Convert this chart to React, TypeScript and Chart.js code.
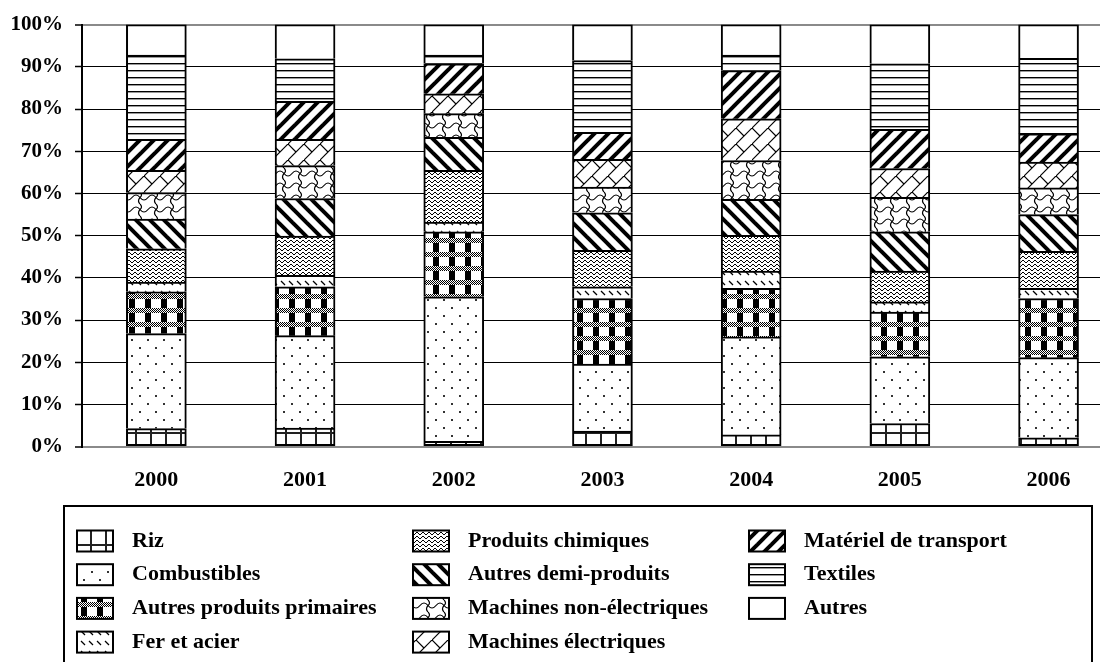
import React, { useEffect, useRef } from 'react';
import { Chart, registerables } from 'chart.js';

Chart.register(...registerables);

const years = ['2000', '2001', '2002', '2003', '2004', '2005', '2006'];
const yTicks = [0, 10, 20, 30, 40, 50, 60, 70, 80, 90, 100];

const riz = [4.3, 4.4, 1.3, 3.7, 2.8, 5.5, 2.1];
const combustibles = [22.5, 21.9, 34.2, 15.9, 23.2, 15.8, 19.0];
const autresPrimaires = [9.9, 11.6, 15.4, 15.5, 11.5, 10.6, 14.0];
const ferAcier = [2.3, 2.7, 2.3, 2.8, 4.1, 2.4, 2.4];
const chimiques = [7.9, 9.3, 12.3, 8.6, 8.5, 7.3, 8.8];
const demiProduits = [7.0, 8.9, 7.8, 8.9, 8.5, 9.3, 8.7];
const machinesNonElec = [6.3, 7.8, 5.6, 6.1, 9.2, 8.2, 6.3];
const machinesElec = [5.3, 6.2, 4.7, 6.6, 9.9, 6.8, 6.1];
const transport = [7.3, 9.0, 7.1, 6.4, 11.4, 9.3, 6.7];
const textiles = [20.0, 10.1, 2.1, 17.0, 3.7, 15.5, 17.9];
const autres = [7.2, 8.1, 7.2, 8.5, 7.2, 9.3, 8.0];

const seriesLabels = [
  'Riz',
  'Combustibles',
  'Autres produits primaires',
  'Fer et acier',
  'Produits chimiques',
  'Autres demi-produits',
  'Machines non-électriques',
  'Machines électriques',
  'Matériel de transport',
  'Textiles',
  'Autres',
];
const seriesValues = [
  riz, combustibles, autresPrimaires, ferAcier, chimiques, demiProduits,
  machinesNonElec, machinesElec, transport, textiles, autres,
];

type Draw = (g: CanvasRenderingContext2D, w: number, h: number) => void;

function makePattern(w: number, h: number, draw: Draw): CanvasPattern | string {
  const c = document.createElement('canvas');
  c.width = w;
  c.height = h;
  const g = c.getContext('2d')!;
  g.fillStyle = '#fff';
  g.fillRect(0, 0, w, h);
  g.fillStyle = '#000';
  g.strokeStyle = '#000';
  draw(g, w, h);
  return g.createPattern(c, 'repeat') || '#fff';
}

function buildPatterns(): (CanvasPattern | string)[] {
  const rizP = makePattern(15, 16, (g) => {
    g.fillStyle = '#222';
    g.fillRect(0, 0, 15, 2);
    g.fillRect(0, 0, 2, 16);
  });
  const combP = makePattern(16, 16, (g) => {
    g.fillStyle = '#333';
    g.fillRect(3, 3, 2, 2);
    g.fillRect(11, 11, 2, 2);
  });
  const appP = makePattern(16, 14, (g) => {
    for (let y = 0; y < 5; y++) {
      for (let x = 0; x < 16; x++) {
        if ((x + y) % 2 === 0) g.fillRect(x, y, 1, 1);
      }
    }
    g.fillRect(1, 5, 6, 9);
  });
  const ferP = makePattern(8, 10, (g) => {
    g.lineWidth = 1.2;
    g.beginPath();
    g.moveTo(1, 1);
    g.lineTo(5, 5);
    g.stroke();
  });
  const chimP = makePattern(12, 12, (g) => {
    g.lineWidth = 1;
    for (const y of [-4, 0, 4, 8, 12]) {
      g.beginPath();
      g.moveTo(0, y + 3);
      g.lineTo(3, y);
      g.lineTo(6, y + 3);
      g.lineTo(9, y);
      g.lineTo(12, y + 3);
      g.stroke();
    }
  });
  const demiP = makePattern(14, 14, (g) => {
    g.lineWidth = 4;
    for (const k of [-14, 0, 14]) {
      g.beginPath();
      g.moveTo(k - 2, -2);
      g.lineTo(k + 16, 16);
      g.stroke();
    }
  });
  const mneP = makePattern(16, 12, (g) => {
    g.lineWidth = 1.2;
    g.beginPath();
    g.moveTo(0, 8);
    g.bezierCurveTo(4, 8, 4, 3, 8, 3);
    g.bezierCurveTo(12, 3, 12, 8, 16, 8);
    g.stroke();
    g.beginPath();
    g.moveTo(12, 5.5);
    g.quadraticCurveTo(9, 9, 12, 12);
    g.stroke();
    g.beginPath();
    g.moveTo(12, 0);
    g.quadraticCurveTo(15, 3, 12, 5.5);
    g.stroke();
  });
  const meP = makePattern(16, 16, (g) => {
    g.lineWidth = 1.2;
    g.beginPath();
    g.moveTo(-1, 17);
    g.lineTo(17, -1);
    g.stroke();
    g.beginPath();
    g.moveTo(0, 0);
    g.lineTo(8, 8);
    g.stroke();
  });
  const transP = makePattern(14, 14, (g) => {
    g.lineWidth = 4;
    for (const k of [-14, 0, 14]) {
      g.beginPath();
      g.moveTo(k - 2, 16);
      g.lineTo(k + 16, -2);
      g.stroke();
    }
  });
  const textP = makePattern(4, 7, (g) => {
    g.fillStyle = '#000';
    g.fillRect(0, 0, 4, 1);
    g.fillStyle = '#999';
    g.fillRect(0, 1, 4, 1);
  });
  return [rizP, combP, appP, ferP, chimP, demiP, mneP, meP, transP, textP, '#ffffff'];
}

const FONT = '"Liberation Serif", "Times New Roman", serif';

const boxLegend = {
  id: 'boxLegend',
  afterDraw(chart: any) {
    const ctx: CanvasRenderingContext2D = chart.ctx;
    ctx.save();
    ctx.lineWidth = 2;
    ctx.strokeStyle = '#000';
    ctx.strokeRect(64, 506, 1028, 200);
    chart.data.datasets.forEach((ds: any, i: number) => {
      const col = Math.floor(i / 4);
      const row = i % 4;
      const x = 77 + col * 336;
      const cy = 541 + row * 33.7;
      ctx.fillStyle = ds.backgroundColor;
      ctx.fillRect(x, cy - 10.5, 36, 21);
      ctx.lineWidth = 2;
      ctx.strokeStyle = '#000';
      ctx.strokeRect(x, cy - 10.5, 36, 21);
      ctx.fillStyle = '#000';
      ctx.font = `bold 22px ${FONT}`;
      ctx.textBaseline = 'middle';
      ctx.textAlign = 'left';
      ctx.fillText(ds.label, x + 55, cy);
    });
    ctx.restore();
  },
};

export default function App() {
  const canvasRef = useRef<HTMLCanvasElement | null>(null);

  useEffect(() => {
    if (!canvasRef.current) return;
    const patterns = buildPatterns();
    const datasets = seriesLabels.map((label, s) => ({
      label,
      data: seriesValues[s].map((v, i) => ({ x: i, y: v })),
      backgroundColor: patterns[s] as any,
      borderColor: '#000',
      borderWidth: 2,
      borderSkipped: s === 0 ? false : 'start',
      barThickness: 60,
    }));
    const chart = new Chart(canvasRef.current, {
      type: 'bar',
      data: { datasets },
      options: {
        responsive: true,
        maintainAspectRatio: false,
        animation: false,
        events: [],
        layout: { padding: { top: 24, right: 9, bottom: 0, left: 0 } },
        plugins: { legend: { display: false }, tooltip: { enabled: false } },
        scales: {
          x: {
            type: 'linear',
            stacked: true,
            offset: false,
            min: -0.5,
            max: 6.346,
            grid: { display: false, drawTicks: false, offset: false },
            border: { display: false },
            afterBuildTicks: (s: any) => {
              s.ticks = years.map((_, i) => ({ value: i }));
            },
            afterFit: (s: any) => {
              s.height = 662 - 446.7;
            },
            ticks: {
              padding: 20,
              color: '#000',
              autoSkip: false,
              maxRotation: 0,
              font: { family: FONT, size: 22, weight: 'bold' },
              callback: (v: any) => years[Math.round(Number(v))] ?? '',
            },
          },
          y: {
            stacked: true,
            min: 0,
            max: 100,
            afterBuildTicks: (s: any) => {
              s.ticks = yTicks.map((v) => ({ value: v }));
            },
            afterFit: (s: any) => {
              s.width = 82;
            },
            ticks: {
              padding: 12,
              color: '#000',
              font: { family: FONT, size: 21, weight: 'bold' },
              callback: (v: any) => `${v}%`,
            },
            grid: {
              color: (c: any) => (c.tick && (c.tick.value === 0 || c.tick.value === 100) ? '#8a8a8a' : '#000'),
              lineWidth: (c: any) => (c.tick && (c.tick.value === 0 || c.tick.value === 100) ? 2 : 1),
              tickLength: 7,
              tickColor: '#000',
              tickWidth: 1.5,
            },
            border: { display: true, color: '#000', width: 2 },
          },
        },
      } as any,
      plugins: [boxLegend],
    });
    return () => chart.destroy();
  }, []);

  return (
    <div style={{ position: 'fixed', left: 0, top: 0, width: 1109, height: 662, background: '#fff' }}>
      <canvas ref={canvasRef} />
    </div>
  );
}
